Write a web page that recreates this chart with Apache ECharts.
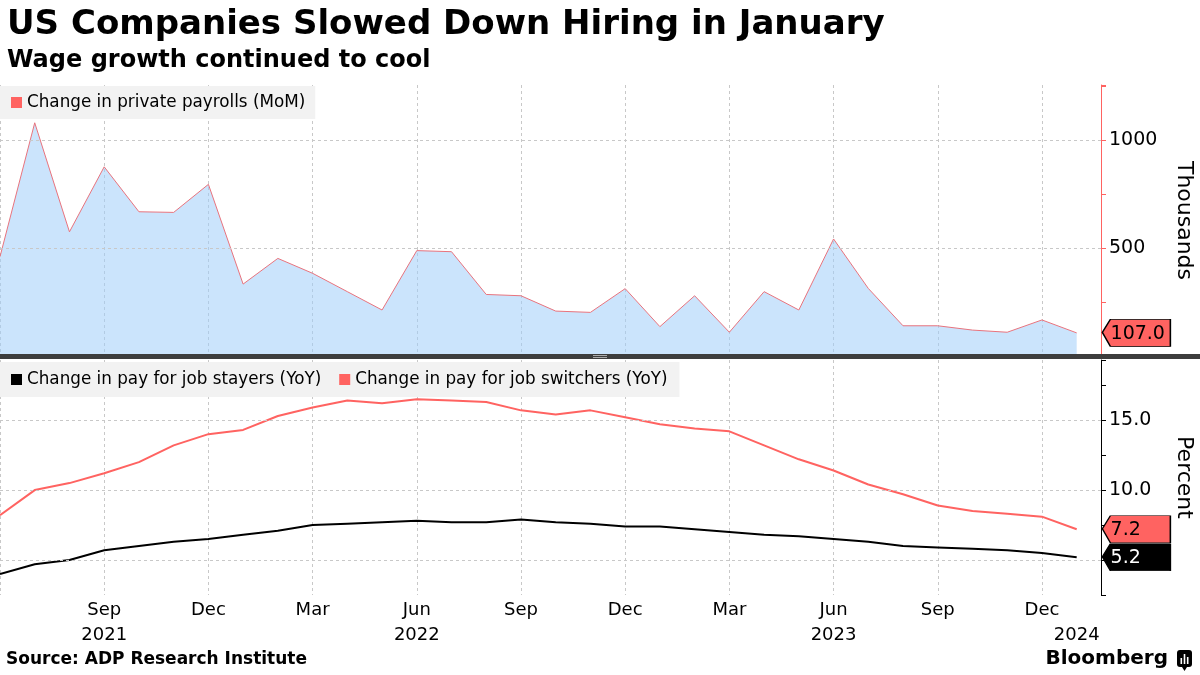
<!DOCTYPE html>
<html><head><meta charset="utf-8">
<script src="https://cdn.jsdelivr.net/npm/echarts@6/dist/echarts.min.js"></script>
<style>html,body{margin:0;padding:0;background:#fff}#c{width:1200px;height:675px}</style>
</head><body><div id="c"></div>
<script>
// ---- data ----
const months = ['Jun 2021','Jul 2021','Aug 2021','Sep 2021','Oct 2021','Nov 2021','Dec 2021',
  'Jan 2022','Feb 2022','Mar 2022','Apr 2022','May 2022','Jun 2022','Jul 2022','Aug 2022','Sep 2022','Oct 2022','Nov 2022','Dec 2022',
  'Jan 2023','Feb 2023','Mar 2023','Apr 2023','May 2023','Jun 2023','Jul 2023','Aug 2023','Sep 2023','Oct 2023','Nov 2023','Dec 2023',
  'Jan 2024'];
const payrolls = [460,1080,575,876,668,665,795, 333,452,383,298,213,488,483,285,279,208,202,312, 136,279,110,298,213,542,313,140,140,120,110,167, 107];
const stayers = [4.0,4.7,5.0,5.7,6.0,6.3,6.5, 6.8,7.1,7.5,7.6,7.7,7.8,7.7,7.7,7.9,7.7,7.6,7.4, 7.4,7.2,7.0,6.8,6.7,6.5,6.3,6.0,5.9,5.8,5.7,5.5, 5.2];
const switchers = [8.2,10.0,10.5,11.2,12.0,13.2,14.0, 14.3,15.3,15.9,16.4,16.2,16.5,16.4,16.3,15.7,15.4,15.7,15.2, 14.7,14.4,14.2,13.2,12.2,11.4,10.4,9.7,8.9,8.5,8.3,8.1, 7.2];
const yearLabelIdx = [3, 12, 24, 31];
const yearLabelText = ['2021', '2022', '2023', '2024'];
const payTicks = [500, 1000];
const pctGrid = [5, 10, 15];
const seriesNames = ['Change in private payrolls (MoM)', 'Change in pay for job stayers (YoY)', 'Change in pay for job switchers (YoY)'];

// ---- style ----
const F = 'DejaVu Sans';
const RED = '#ff6361';
const GRIDC = '#c8c8c8';
const XMAX = 31.7;
const last = a => a[a.length - 1];

const chart = echarts.init(document.getElementById('c'));

function tag(value, fill, textColor, dec) {
  return {
    symbol: 'path://M0,13 L8,0 L68,0 L68,27 L8,27 Z',
    symbolSize: [68, 27],
    symbolOffset: ['52%', 0],
    itemStyle: { color: fill, borderColor: '#000', borderWidth: 1 },
    label: { show: true, position: 'insideLeft', distance: 9, offset: [0, 1], color: textColor, fontFamily: F, fontSize: 19,
      formatter: p => Number(p.value).toFixed(dec) },
    data: [{ coord: [XMAX, value], value: value }],
    z: 10
  };
}

const xBase = {
  type: 'value', min: 0, max: XMAX, interval: 3, position: 'bottom',
  axisLine: { show: false, onZero: false }, axisTick: { show: false },
  splitLine: { show: true, lineStyle: { color: GRIDC, type: [3, 3], width: 1 } }
};

const legendText = { fontFamily: F, fontSize: 16.8, color: '#000' };

const option = {
  backgroundColor: '#fff',
  animation: false,
  title: [
    { text: 'US Companies Slowed Down Hiring in January', left: 2, top: 3,
      textStyle: { fontFamily: F, fontWeight: 'bold', fontSize: 34, color: '#000' } },
    { text: 'Wage growth continued to cool', left: 2, top: 44,
      textStyle: { fontFamily: F, fontWeight: 'bold', fontSize: 24, color: '#000' } }
  ],
  legend: [
    { left: 0, top: 86, data: [{ name: seriesNames[0], itemStyle: { color: RED } }],
      backgroundColor: '#f2f2f2', padding: [8, 10, 8, 11], icon: 'rect', itemWidth: 11, itemHeight: 11,
      textStyle: legendText, selectedMode: false },
    { left: 0, top: 362, data: [{ name: seriesNames[1], itemStyle: { color: '#000' } }, { name: seriesNames[2], itemStyle: { color: RED } }],
      backgroundColor: '#f2f2f2', padding: [9, 12, 9, 11], icon: 'rect', itemWidth: 11, itemHeight: 11, itemGap: 18,
      textStyle: legendText, selectedMode: false }
  ],
  grid: [
    { left: 0, right: 99, top: 85, height: 271, containLabel: false, outerBoundsMode: 'none' },
    { left: 0, right: 99, top: 360, height: 235, containLabel: false, outerBoundsMode: 'none' }
  ],
  xAxis: [
    Object.assign({}, xBase, { gridIndex: 0, axisLabel: { show: false } }),
    Object.assign({}, xBase, { gridIndex: 1,
      axisLabel: { show: true, margin: 6, fontFamily: F, fontSize: 18, color: '#000',
        formatter: v => (v > 0 && Number.isInteger(v) && v < months.length) ? months[v].split(' ')[0] : '' } }),
    { gridIndex: 1, type: 'value', position: 'bottom', offset: 0, min: 0, max: XMAX, interval: 1,
      axisLine: { show: false, onZero: false }, axisTick: { show: false }, splitLine: { show: false },
      axisLabel: { show: true, margin: 31, fontFamily: F, fontSize: 18, color: '#000',
        formatter: v => { const k = yearLabelIdx.indexOf(v); return k >= 0 ? yearLabelText[k] : ''; } } }
  ],
  yAxis: [
    { gridIndex: 0, type: 'value', position: 'right', min: 0, max: 1255, interval: 500,
      axisLine: { show: true, onZero: false, lineStyle: { color: RED, width: 1 } },
      axisTick: { show: true, length: 5, lineStyle: { color: RED } },
      minorTick: { show: true, splitNumber: 2, length: 5, lineStyle: { color: RED } },
      splitLine: { show: false },
      axisLabel: { margin: 8, fontFamily: F, fontSize: 19, color: '#000',
        formatter: v => payTicks.indexOf(v) >= 0 ? String(v) : '' },
      name: 'Thousands', nameLocation: 'middle', nameRotate: -90, nameGap: 72,
      nameTextStyle: { fontFamily: F, fontSize: 22, color: '#000' } },
    { gridIndex: 1, type: 'value', position: 'right', min: 2.5, max: 19.3, interval: 2.5,
      axisLine: { show: true, onZero: false, lineStyle: { color: '#000', width: 1 } },
      axisTick: { show: true, length: 5, lineStyle: { color: '#000' } },
      splitLine: { show: false },
      axisLabel: { margin: 8, fontFamily: F, fontSize: 19, color: '#000',
        formatter: v => pctGrid.indexOf(v) >= 0 ? v.toFixed(1) : '' },
      name: 'Percent', nameLocation: 'middle', nameRotate: -90, nameGap: 72,
      nameTextStyle: { fontFamily: F, fontSize: 22, color: '#000' } }
  ],
  series: [
    { name: seriesNames[0], type: 'line', xAxisIndex: 0, yAxisIndex: 0,
      data: payrolls.map((v, i) => [i, v]), symbol: 'none',
      itemStyle: { color: RED },
      lineStyle: { color: '#e8737d', width: 1 },
      areaStyle: { color: 'rgba(160,205,250,0.55)', opacity: 1, origin: 'start' },
      markLine: { silent: true, symbol: 'none', label: { show: false },
        lineStyle: { color: GRIDC, type: [3, 3], width: 1 },
        data: payTicks.map(v => ({ yAxis: v })) },
      markPoint: tag(last(payrolls), RED, '#000', 1) },
    { name: seriesNames[1], type: 'line', xAxisIndex: 1, yAxisIndex: 1,
      data: stayers.map((v, i) => [i, v]), symbol: 'none',
      itemStyle: { color: '#000' }, lineStyle: { color: '#000', width: 2 },
      markLine: { silent: true, symbol: 'none', label: { show: false },
        lineStyle: { color: GRIDC, type: [3, 3], width: 1 },
        data: pctGrid.map(v => ({ yAxis: v })) },
      markPoint: tag(last(stayers), '#000', '#fff', 1), z: 3 },
    { name: seriesNames[2], type: 'line', xAxisIndex: 1, yAxisIndex: 1,
      data: switchers.map((v, i) => [i, v]), symbol: 'none',
      itemStyle: { color: RED }, lineStyle: { color: RED, width: 2 },
      markPoint: tag(last(switchers), RED, '#000', 1), z: 2 }
  ],
  graphic: [
    { type: 'rect', shape: { x: 0, y: 354, width: 1200, height: 5 }, style: { fill: '#3d3d3d' }, z: 100 },
    { type: 'rect', shape: { x: 593, y: 355, width: 14, height: 1 }, style: { fill: '#aaa' }, z: 101 },
    { type: 'rect', shape: { x: 593, y: 357, width: 14, height: 1 }, style: { fill: '#aaa' }, z: 101 },
    { type: 'text', left: 6, top: 651, style: { text: 'Source: ADP Research Institute', fontFamily: F, fontWeight: 'bold', fontSize: 17, fill: '#000' } },
    { type: 'text', right: 32, top: 649, style: { text: 'Bloomberg', fontFamily: F, fontWeight: 'bold', fontSize: 20, fill: '#000' } },
    { type: 'group', right: 8, top: 650, children: [
      { type: 'rect', shape: { x: 0, y: 0, width: 15, height: 17, r: 3 }, style: { fill: '#000' } },
      { type: 'polygon', shape: { points: [[5, 17], [10, 17], [7.5, 21]] }, style: { fill: '#000' } },
      { type: 'rect', shape: { x: 3.5, y: 8, width: 1.6, height: 6 }, style: { fill: '#fff' } },
      { type: 'rect', shape: { x: 6.7, y: 4, width: 1.6, height: 10 }, style: { fill: '#fff' } },
      { type: 'rect', shape: { x: 9.9, y: 7, width: 1.6, height: 7 }, style: { fill: '#fff' } }
    ] }
  ]
};
chart.setOption(option);
</script>
</body></html>
